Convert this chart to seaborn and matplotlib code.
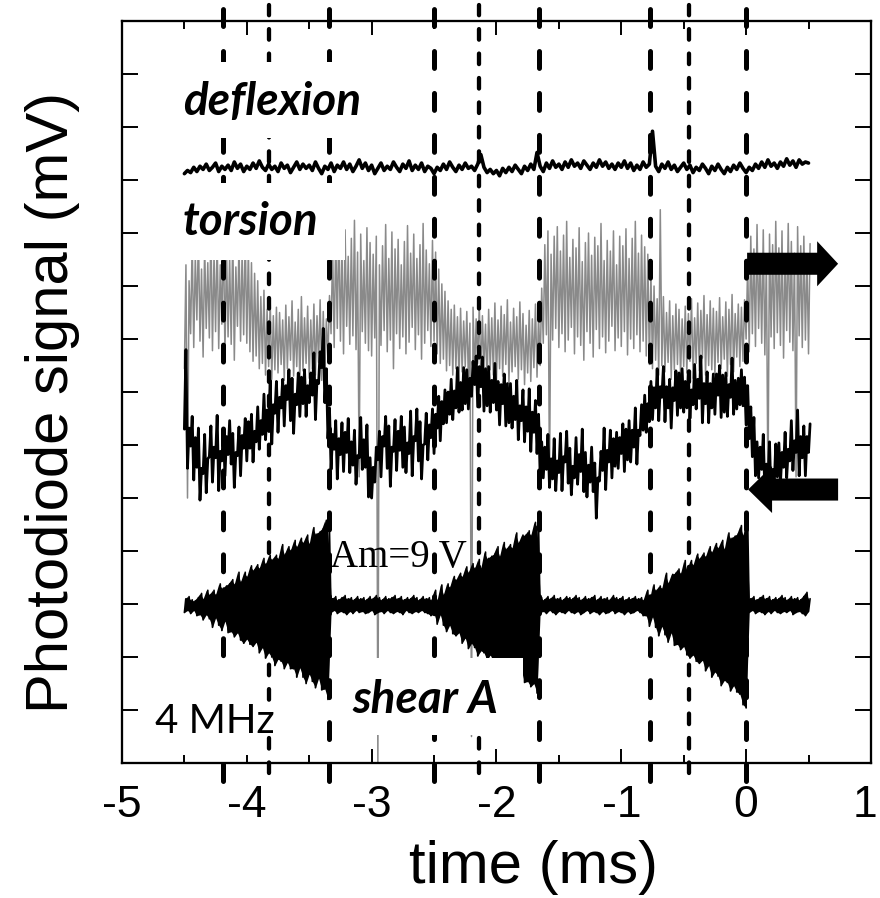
import matplotlib
matplotlib.use("Agg")
import matplotlib.pyplot as plt
from matplotlib.patches import Rectangle
from matplotlib.ticker import MultipleLocator
from matplotlib.transforms import ScaledTranslation
import numpy as np
import seaborn as sns

# ---------------- data ----------------
# sampling grid of the recorded traces (ms); each trace is read as the
# lower / upper edge of its noise band at every sample (oscilloscope style)
time_ms = np.round(np.arange(201) * 0.025 - 4.5, 3)

deflexion = [
    556, 559, 557, 562, 558, 563, 560, 565, 559, 562,
    566, 558, 563, 560, 564, 559, 567, 561, 565, 558,
    563, 560, 566, 561, 568, 562, 559, 565, 560, 563,
    558, 566, 561, 564, 557, 562, 567, 560, 565, 561,
    564, 559, 567, 561, 556, 563, 560, 566, 558, 564,
    561, 567, 560, 565, 558, 563, 569, 561, 566, 559,
    564, 556, 561, 566, 559, 563, 560, 567, 562, 558,
    565, 561, 568, 559, 564, 560, 566, 558, 563, 561,
    556, 562, 559, 565, 560, 567, 562, 558, 564, 560,
    566, 561, 563, 559, 565, 574, 562, 557, 560, 556,
    559, 554, 561, 557, 562, 558, 564, 560, 556, 563,
    559, 565, 560, 576, 563, 558, 566, 561, 568, 562,
    565, 560, 567, 562, 569, 563, 566, 561, 568, 564,
    560, 566, 562, 569, 563, 567, 561, 565, 560, 566,
    562, 568, 561, 566, 559, 564, 560, 567, 562, 565,
    596, 563, 558, 565, 561, 567, 560, 564, 558, 562,
    566, 560, 564, 557, 562, 559, 565, 561, 556, 563,
    559, 565, 560, 556, 562, 558, 564, 560, 566, 561,
    557, 562, 559, 565, 561, 567, 562, 569, 563, 566,
    561, 567, 563, 570, 564, 568, 562, 569, 565, 567,
    566]

gray_high = [
    470, 455, 492, 478, 501, 466, 488, 472, 505, 481,
    496, 470, 503, 484, 477, 498, 468, 490, 482, 500,
    486, 472, 462, 455, 440, 446, 428, 435, 422, 430,
    425, 418, 432, 421, 436, 416, 428, 440, 420, 431,
    418, 433, 422, 437, 426, 419, 441, 486, 498, 510,
    486, 503, 478, 495, 512, 482, 499, 474, 505, 491,
    480, 497, 470, 488, 508, 476, 501, 485, 494, 470,
    492, 507, 481, 499, 476, 489, 509, 484, 471, 493,
    482, 466, 452, 445, 436, 428, 432, 421, 429, 417,
    426, 415, 430, 419, 433, 422, 414, 428, 420, 434,
    418, 431, 423, 437, 416, 429, 421, 435, 424, 413,
    427, 419, 433, 422, 448, 489, 502, 480, 497, 506,
    483, 498, 511, 477, 494, 486, 505, 473, 491, 500,
    479, 496, 488, 509, 474, 493, 483, 502, 470, 497,
    488, 504, 476, 495, 511, 481, 498, 487, 480, 462,
    450, 438, 522, 440, 425, 436, 422, 433, 428, 419,
    431, 424, 438, 420, 434, 427, 441, 423, 436, 429,
    426, 439, 421, 435, 428, 442, 424, 433, 430, 437,
    470, 497, 485, 508, 480, 503, 476, 499, 489, 511,
    486, 502, 478, 509, 492, 481, 506, 488, 497, 477,
    490]

gray_low = [
    372, 250, 405, 392, 418, 398, 383, 410, 401, 389,
    407, 391, 414, 386, 402, 395, 380, 412, 398, 404,
    396, 388, 379, 384, 372, 377, 366, 374, 362, 371,
    368, 376, 361, 372, 380, 365, 374, 358, 370, 377,
    363, 372, 366, 378, 361, 369, 380, 405, 392, 410,
    398, 386, 412, 395, 403, 390, 270, 407, 396, 389,
    384, 401, 0, 394, 408, 388, 399, 372, 405, 391,
    402, 386, 397, 411, 390, 404, 381, 396, 408, 393,
    398, 386, 377, 381, 370, 375, 366, 372, 360, 369,
    374, 363, 25, 368, 377, 362, 373, 359, 371, 366,
    361, 372, 365, 376, 358, 369, 374, 362, 371, 357,
    368, 360, 373, 364, 375, 396, 404, 262, 399, 410,
    392, 405, 388, 399, 411, 386, 402, 394, 380, 407,
    396, 383, 409, 391, 402, 387, 398, 412, 389, 401,
    393, 407, 385, 400, 391, 404, 388, 398, 384, 376,
    372, 380, 366, 375, 369, 378, 362, 371, 376, 365,
    374, 368, 379, 363, 377, 370, 382, 366, 375, 371,
    367, 378, 372, 381, 365, 376, 369, 383, 374, 379,
    400, 388, 405, 393, 410, 396, 385, 255, 402, 391,
    406, 394, 382, 408, 397, 389, 270, 403, 392, 399,
    386]

black_high = [
    390, 316, 327, 307, 316, 278, 310, 287, 318, 298,
    328, 294, 315, 308, 323, 311, 293, 317, 309, 325,
    322, 329, 313, 336, 323, 348, 333, 361, 338, 360,
    345, 362, 356, 371, 363, 348, 368, 364, 371, 356,
    368, 387, 361, 388, 410, 372, 335, 310, 323, 306,
    321, 312, 325, 303, 314, 290, 326, 305, 319, 288,
    279, 298, 313, 308, 327, 318, 298, 324, 313, 327,
    317, 302, 332, 308, 334, 322, 300, 330, 319, 334,
    329, 346, 341, 352, 350, 362, 351, 373, 359, 373,
    371, 363, 379, 384, 374, 383, 372, 374, 361, 377,
    360, 357, 367, 358, 358, 346, 361, 337, 352, 336,
    353, 331, 342, 329, 303, 298, 310, 287, 306, 285,
    311, 289, 313, 297, 280, 307, 291, 315, 293, 281,
    298, 283, 269, 294, 316, 295, 314, 306, 312, 307,
    320, 315, 323, 314, 335, 314, 338, 347, 339, 360,
    354, 372, 355, 374, 355, 362, 354, 370, 368, 372,
    360, 368, 352, 376, 362, 384, 358, 369, 358, 367,
    367, 375, 366, 368, 357, 382, 361, 363, 371, 364,
    356, 336, 326, 303, 298, 310, 282, 303, 277, 301,
    302, 293, 312, 296, 323, 304, 333, 308, 318, 308,
    320]

black_low = [
    315, 278, 299, 267, 279, 248, 273, 255, 289, 265,
    288, 257, 285, 271, 291, 282, 260, 290, 271, 297,
    285, 297, 284, 303, 296, 310, 305, 321, 301, 330,
    312, 335, 318, 343, 323, 311, 338, 327, 339, 327,
    340, 347, 324, 358, 373, 340, 306, 277, 296, 268,
    291, 275, 293, 274, 281, 263, 288, 277, 279, 251,
    250, 265, 286, 270, 299, 278, 261, 294, 276, 295,
    279, 274, 292, 271, 304, 285, 268, 301, 286, 307,
    292, 316, 304, 320, 321, 329, 324, 335, 331, 333,
    339, 334, 346, 357, 336, 355, 332, 337, 331, 340,
    333, 319, 339, 318, 321, 316, 324, 305, 323, 303,
    313, 294, 312, 292, 271, 269, 277, 260, 268, 257,
    274, 257, 284, 264, 253, 269, 263, 275, 256, 251,
    265, 256, 231, 266, 276, 258, 284, 269, 280, 278,
    292, 275, 286, 284, 298, 282, 309, 314, 312, 322,
    324, 335, 323, 345, 322, 335, 316, 342, 328, 335,
    331, 335, 325, 338, 334, 344, 321, 339, 321, 335,
    329, 347, 326, 331, 327, 345, 329, 334, 338, 337,
    319, 306, 289, 271, 269, 277, 255, 265, 249, 261,
    270, 264, 279, 269, 285, 276, 293, 271, 288, 271,
    293]

shear_upper = [
    155, 157, 154, 153, 156, 160, 155, 163, 159, 163,
    159, 169, 165, 167, 169, 173, 169, 180, 171, 180,
    176, 186, 182, 187, 184, 193, 188, 196, 192, 196,
    193, 206, 197, 204, 201, 210, 204, 212, 208, 215,
    207, 222, 216, 218, 221, 229, 219, 155, 157, 154,
    156, 158, 155, 156, 154, 157, 155, 156, 154, 157,
    155, 158, 156, 154, 157, 155, 156, 158, 155, 157,
    154, 156, 155, 158, 156, 154, 157, 155, 156, 154,
    163, 154, 168, 159, 169, 166, 176, 173, 179, 176,
    185, 180, 188, 184, 192, 184, 199, 193, 195, 197,
    204, 195, 208, 202, 206, 203, 217, 208, 215, 215,
    219, 215, 227, 223, 156, 154, 157, 155, 158, 155,
    156, 154, 157, 156, 155, 158, 156, 154, 157, 155,
    156, 158, 154, 157, 155, 156, 154, 158, 156, 155,
    157, 154, 156, 155, 157, 155, 156, 154, 163, 154,
    168, 163, 167, 165, 179, 170, 178, 179, 183, 179,
    191, 182, 191, 187, 197, 193, 198, 195, 204, 199,
    207, 203, 210, 202, 217, 212, 214, 216, 224, 215,
    230, 155, 157, 154, 156, 158, 155, 157, 154, 156,
    155, 158, 156, 154, 157, 155, 156, 154, 157, 161,
    155]

shear_lower = [
    142, 144, 141, 144, 139, 140, 135, 140, 136, 128,
    137, 130, 125, 134, 123, 124, 119, 123, 116, 113,
    117, 112, 110, 114, 104, 109, 99, 104, 100, 92,
    98, 96, 89, 95, 89, 89, 81, 90, 81, 75,
    84, 77, 71, 80, 69, 70, 60, 142, 144, 141,
    143, 142, 140, 143, 141, 144, 142, 143, 141, 142,
    144, 140, 142, 143, 141, 144, 142, 141, 143, 142,
    140, 144, 142, 141, 143, 142, 144, 142, 141, 139,
    141, 131, 140, 130, 124, 130, 122, 120, 123, 113,
    118, 108, 113, 109, 101, 106, 104, 97, 102, 96,
    97, 88, 97, 88, 82, 91, 84, 78, 87, 76,
    77, 72, 75, 66, 142, 143, 141, 144, 142, 140,
    143, 142, 141, 144, 142, 141, 143, 140, 142, 144,
    141, 143, 142, 140, 143, 141, 142, 144, 141, 143,
    142, 140, 143, 141, 142, 144, 142, 139, 139, 129,
    138, 128, 120, 129, 121, 114, 123, 111, 112, 107,
    110, 102, 99, 102, 96, 94, 97, 87, 92, 81,
    86, 82, 73, 78, 76, 68, 73, 67, 65, 55,
    52, 142, 144, 141, 143, 142, 140, 143, 141, 144,
    142, 141, 143, 142, 144, 140, 142, 143, 141, 139,
    143]

# dashed markers (ms)
long_dash_times = [-4.19, -3.34, -2.50, -1.66, -0.77, 0.0]
short_dash_times = [-3.82, -2.14, -0.46]

xtick_values = [-5, -4, -3, -2, -1, 0, 1]
xtick_labels = ["-5", "-4", "-3", "-2", "-1", "0", "1"]
ytick_values = list(range(0, 701, 50))


def band_path(t, low, high):
    """min/max band drawn as an oscilloscope zig-zag (low at t, high half a sample later)."""
    t = np.asarray(t, float)
    half = (t[1] - t[0]) / 2
    xs = np.column_stack([t, t + half]).ravel()
    ys = np.column_stack([low, high]).ravel()
    return xs, ys


# ---------------- style ----------------
sns.set_style("ticks")
plt.rcParams["font.family"] = ["Liberation Sans", "DejaVu Sans"]
plt.rcParams["axes.unicode_minus"] = False
plt.rcParams["lines.scale_dashes"] = False
for key in ["text.color", "axes.labelcolor", "xtick.color", "ytick.color", "axes.edgecolor"]:
    plt.rcParams[key] = "black"

fig = plt.figure(figsize=(8.8, 8.98), dpi=100)
ax = fig.add_axes([0.1386, 0.1503, 0.8511, 0.8263])

# traces
gx, gy = band_path(time_ms, gray_low, gray_high)
sns.lineplot(x=gx, y=gy, ax=ax, color="#8a8a8a", lw=1.1,
             estimator=None, sort=False, zorder=2)
bx, by = band_path(time_ms, black_low, black_high)
sns.lineplot(x=bx, y=by, ax=ax, color="black", lw=2.0,
             estimator=None, sort=False, zorder=3)
sns.lineplot(x=time_ms, y=deflexion, ax=ax, color="black", lw=2.6,
             estimator=None, sort=False, zorder=3)
sx, sy = band_path(time_ms, shear_lower, shear_upper)
sns.lineplot(x=sx, y=sy, ax=ax, color="black", lw=1.2,
             estimator=None, sort=False, zorder=3)
ax.fill_between(time_ms, shear_lower, shear_upper, color="black", lw=0, zorder=3)

# vertical dashed markers (extend beyond the frame)
for t in long_dash_times:
    ax.axvline(t, ymin=-0.024, ymax=1.018, color="black", lw=3.6,
               linestyle=(0, (12.2, 18.0)), dash_capstyle="round",
               clip_on=False, zorder=4)
for t in short_dash_times:
    ax.axvline(t, ymin=-0.014, ymax=1.021, color="black", lw=3.1,
               linestyle=(0, (7.6, 10.0)), dash_capstyle="round",
               clip_on=False, zorder=4)

# white label backgrounds
for (x0, y0, x1, y1) in [(-4.575, 590, -3.053, 661),
                         (-4.575, 475, -3.213, 547),
                         (-3.293, 26, -1.787, 99),
                         (-4.816, 8, -3.910, 97),
                         (-3.91, 28, -3.73, 57)]:
    ax.add_patch(Rectangle((x0, y0), x1 - x0, y1 - y0, facecolor="white",
                           edgecolor="none", zorder=5))

lab_font = ["Lato", "Open Sans", "DejaVu Sans"]
for (tx, ty, s) in [(-4.511, 611, "deflexion"), (-4.511, 498, "torsion"),
                    (-3.157, 47, "shear A")]:
    ax.text(tx, ty, s, fontsize=33, fontweight="bold", style="italic",
            family=lab_font, va="baseline", ha="left", zorder=6)
ax.text(-4.736, 28, "4 MHz", fontsize=29, family=lab_font,
        va="baseline", ha="left", zorder=6)
ax.text(-3.333, 185, "Am=9 V", fontsize=28, family=["Liberation Serif", "DejaVu Serif"],
        va="baseline", ha="left", zorder=6)

# arrows
ax.arrow(0.008, 471, 0.729, 0, width=20.8, head_width=42.5, head_length=0.168,
         length_includes_head=True, fc="black", ec="none", clip_on=False, zorder=6)
ax.arrow(0.737, 258, -0.721, 0, width=20.8, head_width=44.3, head_length=0.192,
         length_includes_head=True, fc="black", ec="none", clip_on=False, zorder=6)

# axes
ax.set_xlim(-5, 1)
ax.set_ylim(0, 700)
ax.set_xticks(xtick_values)
ax.set_xticklabels(xtick_labels)
ax.xaxis.set_minor_locator(MultipleLocator(0.5))
ax.set_yticks(ytick_values)
ax.tick_params(axis="x", which="major", direction="in", length=10, width=1.4,
               top=True, bottom=True, labelsize=32, pad=15.5, colors="black")
ax.tick_params(axis="x", which="minor", direction="in", length=6, width=1.4,
               top=True, bottom=True)
ax.tick_params(axis="y", which="major", direction="in", length=11.5, width=1.4,
               left=True, right=True, labelleft=False)
for s in ax.spines.values():
    s.set_linewidth(1.65)
    s.set_color("black")

# keep the last tick label ("1") inside the canvas
last_lab = ax.xaxis.get_major_ticks()[-1].label1
last_lab.set_transform(last_lab.get_transform()
                       + ScaledTranslation(-4.5 / 72, 0, fig.dpi_scale_trans))

ax.set_xlabel("time (ms)", fontsize=43, color="black")
ax.xaxis.set_label_coords(0.55, -0.1617)
ax.xaxis.label.set_va("baseline")
ax.set_ylabel("Photodiode signal (mV)", fontsize=43, color="black")
ax.yaxis.set_label_coords(-0.0928, 0.486)
ax.yaxis.label.set_va("center")

fig.savefig("out.png", dpi=100)
